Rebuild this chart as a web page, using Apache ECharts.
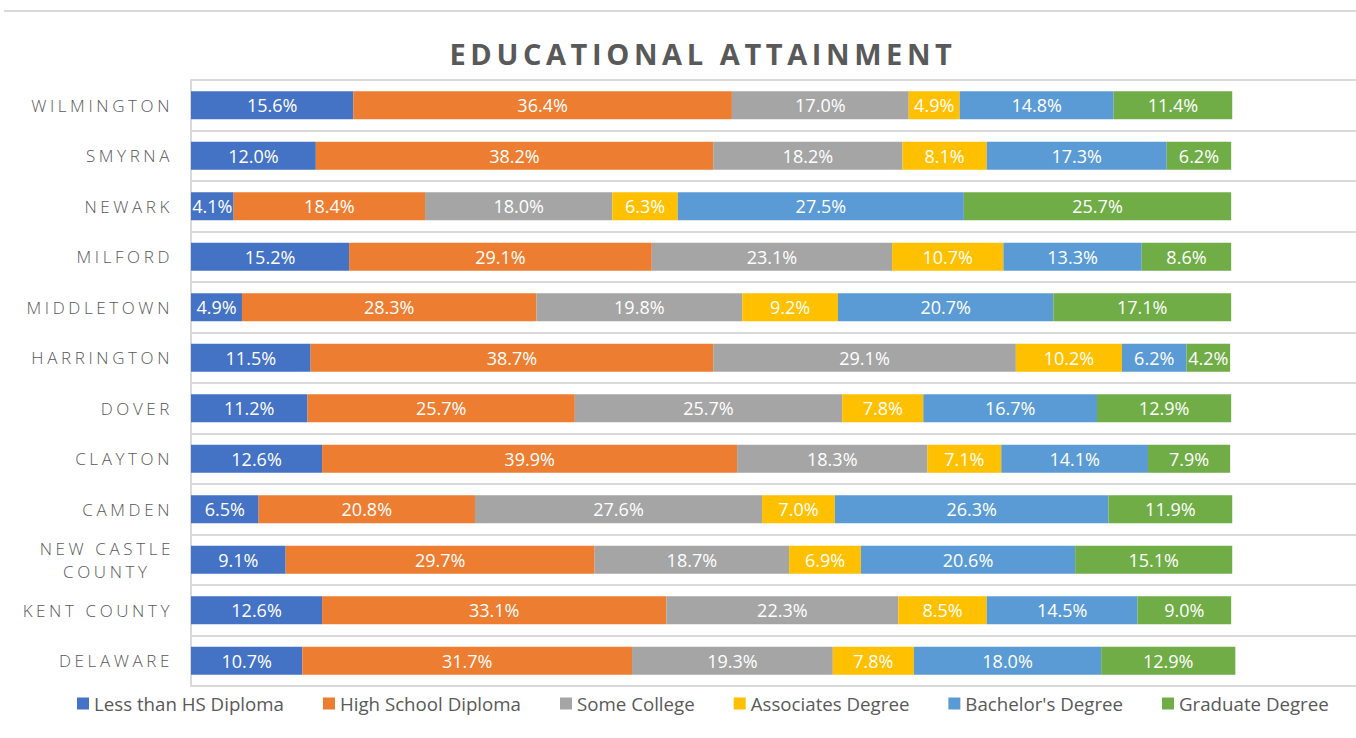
<!DOCTYPE html>
<html>
<head>
<meta charset="utf-8">
<script src="https://cdn.jsdelivr.net/npm/echarts@6/dist/echarts.min.js"></script>
<style>
  html, body { margin: 0; padding: 0; background: #ffffff; }
  #chart { width: 1356px; height: 738px; }
  #chart text[style*="Liberation"] { letter-spacing: 3.6px; }
  #chart text[style*="DejaVu"] { letter-spacing: 4.6px; }
</style>
</head>
<body>
<div id="chart"></div>
<script>
const title = 'EDUCATIONAL ATTAINMENT';
const categories = ['WILMINGTON', 'SMYRNA', 'NEWARK', 'MILFORD', 'MIDDLETOWN', 'HARRINGTON', 'DOVER', 'CLAYTON', 'CAMDEN', 'NEW CASTLE\nCOUNTY', 'KENT COUNTY', 'DELAWARE'];
const seriesNames = ['Less than HS Diploma', 'High School Diploma', 'Some College', 'Associates Degree', "Bachelor's Degree", 'Graduate Degree'];
const lessThanHS   = [15.6, 12.0, 4.1, 15.2, 4.9, 11.5, 11.2, 12.6, 6.5, 9.1, 12.6, 10.7];
const highSchool   = [36.4, 38.2, 18.4, 29.1, 28.3, 38.7, 25.7, 39.9, 20.8, 29.7, 33.1, 31.7];
const someCollege  = [17.0, 18.2, 18.0, 23.1, 19.8, 29.1, 25.7, 18.3, 27.6, 18.7, 22.3, 19.3];
const associates   = [4.9, 8.1, 6.3, 10.7, 9.2, 10.2, 7.8, 7.1, 7.0, 6.9, 8.5, 7.8];
const bachelors    = [14.8, 17.3, 27.5, 13.3, 20.7, 6.2, 16.7, 14.1, 26.3, 20.6, 14.5, 18.0];
const graduate     = [11.4, 6.2, 25.7, 8.6, 17.1, 4.2, 12.9, 7.9, 11.9, 15.1, 9.0, 12.9];
const colors = ['#4472C4', '#ED7D31', '#A5A5A5', '#FFC000', '#5B9BD5', '#70AD47'];
const allValues = [lessThanHS, highSchool, someCollege, associates, bachelors, graduate];

const chart = echarts.init(document.getElementById('chart'), null, { renderer: 'svg' });

const series = seriesNames.map((name, i) => ({
  name: name,
  type: 'bar',
  stack: 'total',
  barWidth: 28,
  itemStyle: { color: colors[i] },
  label: {
    show: true,
    position: 'inside',
    color: '#ffffff',
    fontFamily: 'Open Sans',
    fontSize: 18,
    formatter: p => p.value.toFixed(1) + '%'
  },
  data: allValues[i]
}));

const catFont = {
  fontFamily: "'Open Sans', 'Liberation Sans'",
  fontWeight: 300,
  fontSize: 17,
  lineHeight: 23,
  color: '#595959'
};

chart.setOption({
  backgroundColor: '#ffffff',
  animation: false,
  color: colors,
  title: {
    text: title,
    left: 698,
    top: 34,
    textAlign: 'center',
    textStyle: {
      fontFamily: "'Open Sans', 'DejaVu Sans'",
      fontWeight: 'bold',
      fontSize: 29,
      color: '#595959'
    }
  },
  graphic: [{
    type: 'line',
    shape: { x1: 4, y1: 11, x2: 1356, y2: 11 },
    style: { stroke: '#d9d9d9', lineWidth: 2 },
    silent: true
  }],
  legend: {
    data: seriesNames,
    left: 72,
    top: 689,
    itemWidth: 12,
    itemHeight: 12,
    itemGap: 39,
    icon: 'rect',
    textStyle: {
      fontFamily: 'Open Sans',
      fontSize: 18.7,
      color: '#595959',
      padding: [0, 0, 0, 0]
    }
  },
  grid: {
    left: 191,
    right: 0,
    top: 80,
    bottom: 52,
    containLabel: false
  },
  xAxis: {
    type: 'value',
    min: 0,
    max: 112,
    show: false
  },
  yAxis: {
    type: 'category',
    inverse: true,
    data: categories,
    axisLine: { show: true, lineStyle: { color: '#d9d9d9', width: 2 } },
    axisTick: { show: false },
    splitLine: { show: true, interval: 0, lineStyle: { color: '#d9d9d9', width: 2 } },
    axisLabel: {
      interval: 0,
      margin: 18,
      formatter: v => (v.indexOf('\n') >= 0 ? '{m|' : '{r|') + v + '}',
      rich: {
        r: Object.assign({ align: 'right' }, catFont),
        m: Object.assign({ align: 'center', padding: [0, 17, 0, 0] }, catFont)
      }
    }
  },
  series: series
});
</script>
</body>
</html>
